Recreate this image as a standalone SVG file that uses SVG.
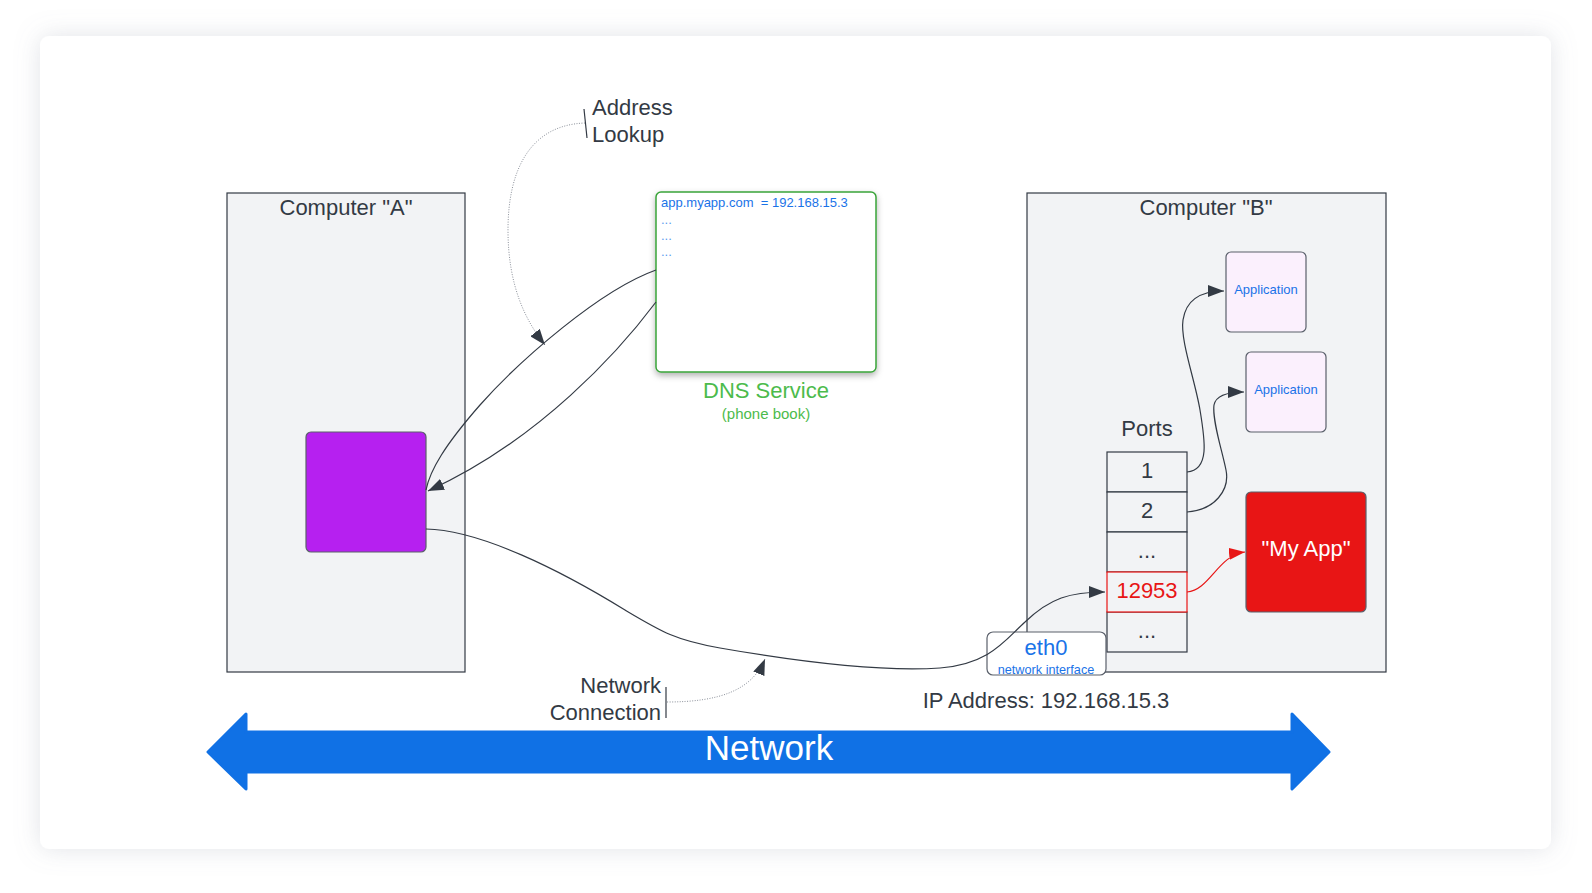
<svg xmlns="http://www.w3.org/2000/svg" width="1592" height="893" viewBox="0 0 1592 893">
<defs>
<filter id="cardShadow" x="-5%" y="-5%" width="110%" height="110%">
<feDropShadow dx="0" dy="0" stdDeviation="12" flood-color="#8a8fa0" flood-opacity="0.25"/>
</filter>
<filter id="boxShadow" x="-10%" y="-10%" width="120%" height="125%">
<feDropShadow dx="0" dy="3" stdDeviation="3" flood-color="#000" flood-opacity="0.3"/>
</filter>
<marker id="arr" markerUnits="userSpaceOnUse" markerWidth="17" markerHeight="12" refX="16" refY="6" orient="auto">
<path d="M0,0 L16,6 L0,12 z" fill="#333a44"/>
</marker>
<marker id="arrRed" markerUnits="userSpaceOnUse" markerWidth="17" markerHeight="12" refX="16" refY="6" orient="auto">
<path d="M0,0 L16,6 L0,12 z" fill="#e81515"/>
</marker>
</defs>
<style>
text{font-family:"Liberation Sans",Arial,sans-serif;}
.t22{font-size:22px;fill:#333a44;}
.mid{text-anchor:middle;}
.computer{fill:#f2f3f5;stroke:#333a44;stroke-width:1.2;}
.port{fill:#f2f3f5;stroke:#333a44;stroke-width:1.2;}
.app{fill:#fbf0fd;stroke:#5a606b;stroke-width:1.2;}
.blue{fill:#1a73e8;}
.conn{fill:none;stroke:#333a44;stroke-width:1.2;}
.dot{fill:none;stroke:#8a8f99;stroke-width:1;stroke-dasharray:1 1.5;}
</style>
<rect x="40" y="36" width="1511" height="813" rx="9" fill="#ffffff" filter="url(#cardShadow)"/>

<g id="computerA">
<rect class="computer" x="227" y="193" width="238" height="479"/>
<text class="t22 mid" x="346" y="215">Computer "A"</text>
</g>

<g id="computerB">
<rect class="computer" x="1027" y="193" width="359" height="479"/>
<text class="t22 mid" x="1206" y="215">Computer "B"</text>
</g>

<g id="client">
<rect x="306" y="432" width="120" height="120" rx="5" fill="#b620f0" stroke="#5a606b" stroke-width="1.2"/>
</g>

<g id="dns">
<rect x="656" y="192" width="220" height="180" rx="5" fill="#ffffff" stroke="#3aa43a" stroke-width="1.5" filter="url(#boxShadow)"/>
<text x="661" y="207" font-size="13" class="blue" xml:space="preserve">app.myapp.com  = 192.168.15.3</text>
<text x="661" y="224" font-size="13" fill="#5b9cef">...</text>
<text x="661" y="240" font-size="13" fill="#5b9cef">...</text>
<text x="661" y="256" font-size="13" fill="#5b9cef">...</text>
<text class="mid" x="766" y="398" font-size="22" fill="#4cbb4c">DNS Service</text>
<text class="mid" x="766" y="419" font-size="15" fill="#4cbb4c">(phone book)</text>
</g>

<g id="ports">
<text class="t22 mid" x="1147" y="436">Ports</text>
<rect class="port" x="1107" y="452" width="80" height="40"/>
<text class="t22 mid" x="1147" y="478">1</text>
<rect class="port" x="1107" y="492" width="80" height="40"/>
<text class="t22 mid" x="1147" y="518">2</text>
<rect class="port" x="1107" y="532" width="80" height="40"/>
<text class="t22 mid" x="1147" y="558">...</text>
<rect class="port" x="1107" y="612" width="80" height="40"/>
<text class="t22 mid" x="1147" y="638">...</text>
<rect x="1107" y="572" width="80" height="40" fill="#f2f3f5" stroke="#e81515" stroke-width="1.2"/>
<text class="mid" x="1147" y="598" font-size="22" fill="#e81515">12953</text>
</g>

<g id="app1">
<rect class="app" x="1226" y="252" width="80" height="80" rx="5"/>
<text class="mid blue" x="1266" y="294" font-size="13">Application</text>
</g>

<g id="app2">
<rect class="app" x="1246" y="352" width="80" height="80" rx="5"/>
<text class="mid blue" x="1286" y="394" font-size="13">Application</text>
</g>

<g id="myapp">
<rect x="1246" y="492" width="120" height="120" rx="5" fill="#e81515" stroke="#5a606b" stroke-width="1.2"/>
<text class="mid" x="1306" y="556" font-size="22" fill="#ffffff">"My App"</text>
</g>

<g id="eth0">
<rect x="987" y="632" width="119" height="43" rx="6" fill="#ffffff" stroke="#5a606b" stroke-width="1.2"/>
<text class="mid blue" x="1046" y="655" font-size="22">eth0</text>
<text class="mid blue" x="1046" y="674" font-size="12.7">network interface</text>
</g>

<g id="ipAddress">
<text class="t22 mid" x="1046" y="708">IP Address: 192.168.15.3</text>
</g>

<g id="addressLookup">
<text class="t22" x="592" y="115">Address</text>
<text class="t22" x="592" y="142">Lookup</text>
<line x1="584" y1="109" x2="587" y2="138" stroke="#333a44" stroke-width="1.2"/>
</g>

<g id="networkConnection">
<text class="t22" x="661" y="693" text-anchor="end">Network</text>
<text class="t22" x="661" y="720" text-anchor="end">Connection</text>
<line x1="666" y1="687" x2="666" y2="718" stroke="#333a44" stroke-width="1.2"/>
</g>

<g id="network">
<polygon points="208,752 246,714 246,732 1292,732 1292,714 1329,752 1292,789 1292,772 246,772 246,789" fill="#1071e5" stroke="#1071e5" stroke-width="3" stroke-linejoin="round"/>
<text class="mid" x="769" y="760" font-size="35" fill="#ffffff">Network</text>
</g>

<g id="connectors">
<path class="conn" d="M656,270 C600,290 520,360 480,405 C445,445 430,470 426,490"/>
<path class="conn" d="M656,302 C620,350 540,440 428,491" marker-end="url(#arr)"/>
<path class="conn" d="M426,529 C480,530 560,570 625,610 C662,632 675,640 720,648 C800,662 880,672 940,668 C990,664 1005,640 1025,622 C1050,598 1070,592 1105,592" marker-end="url(#arr)"/>
<path class="conn" d="M1187,472 C1210,470 1205,440 1200,410 C1195,380 1180,340 1183,320 C1186,300 1200,291 1224,291" marker-end="url(#arr)"/>
<path class="conn" d="M1187,512 C1215,510 1230,490 1226,470 C1222,450 1212,420 1214,405 C1216,395 1228,392 1244,392" marker-end="url(#arr)"/>
<path d="M1187,592 C1210,590 1218,555 1245,552" fill="none" stroke="#e81515" stroke-width="1.2" marker-end="url(#arrRed)"/>
<path class="dot" d="M585,123 C530,125 508,170 508,230 C508,285 525,320 545,345" marker-end="url(#arr)"/>
<path class="dot" d="M667,702 C720,702 752,690 765,659" marker-end="url(#arr)"/>
</g>
</svg>
